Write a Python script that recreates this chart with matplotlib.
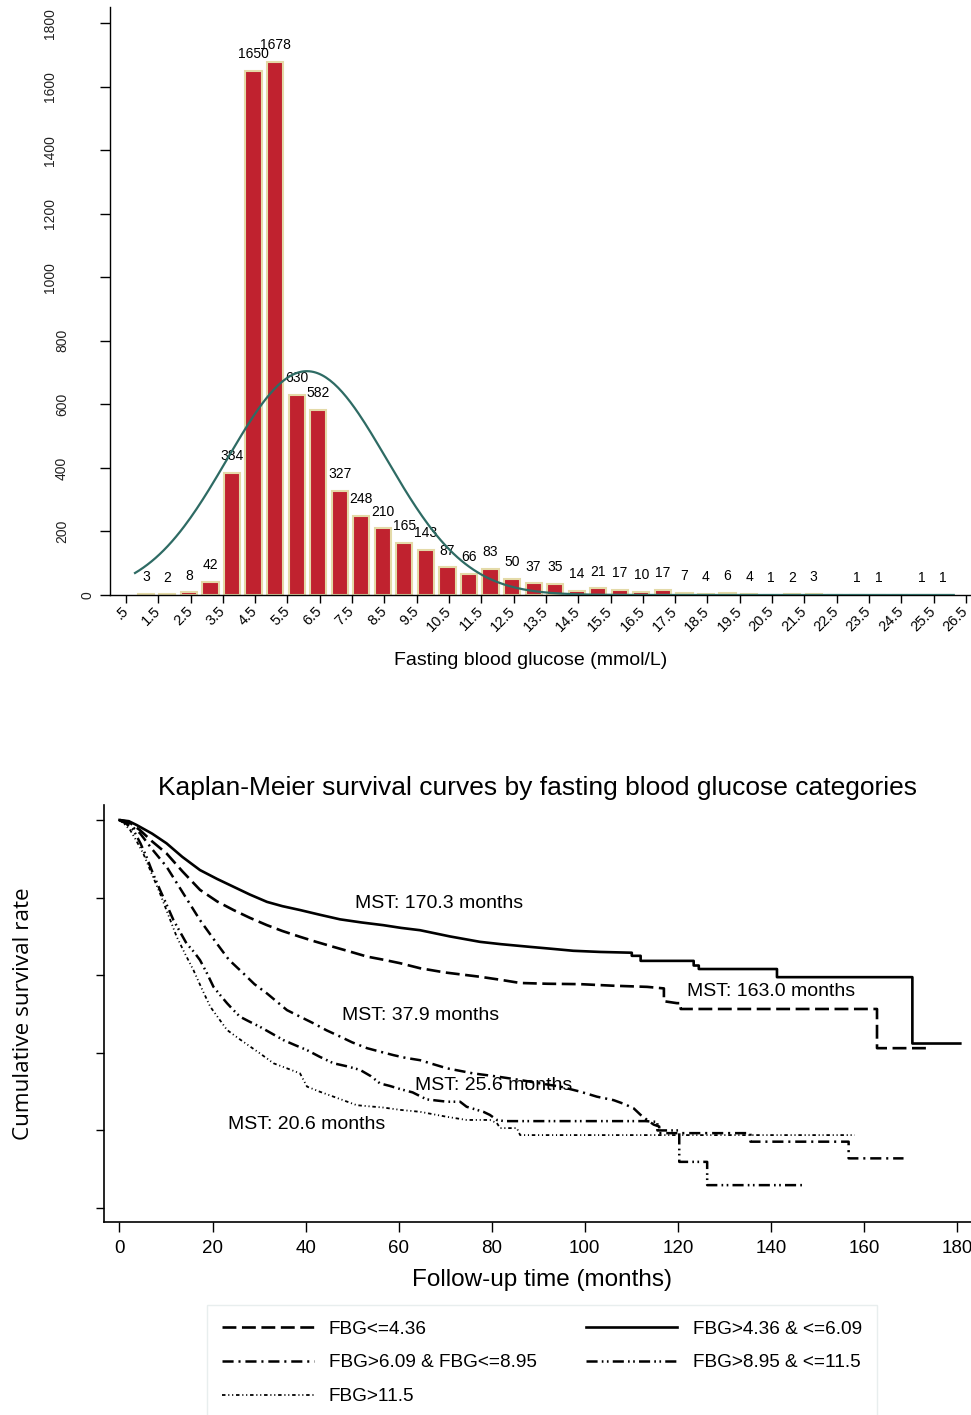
import numpy as np
import matplotlib.pyplot as plt

plt.rcParams['font.family'] = ['Liberation Sans', 'DejaVu Sans']
plt.rcParams['lines.scale_dashes'] = False

# ---- histogram of fasting blood glucose ----
bin_start = 0.78
bin_width = 0.667
fbg_counts = [3, 2, 8, 42, 384, 1650, 1678, 630, 582, 327, 248, 210, 165, 143,
              87, 66, 83, 50, 37, 35, 14, 21, 17, 10, 17, 7, 4, 6, 4, 1, 2, 3,
              0, 1, 1, 0, 1, 1]
fbg_mean = 6.1
fbg_sd = 2.47
hist_xticks = [0.5, 1.5, 2.5, 3.5, 4.5, 5.5, 6.5, 7.5, 8.5, 9.5, 10.5, 11.5, 12.5,
               13.5, 14.5, 15.5, 16.5, 17.5, 18.5, 19.5, 20.5, 21.5, 22.5, 23.5,
               24.5, 25.5, 26.5]
hist_xticklabels = ['.5', '1.5', '2.5', '3.5', '4.5', '5.5', '6.5', '7.5', '8.5',
                    '9.5', '10.5', '11.5', '12.5', '13.5', '14.5', '15.5', '16.5',
                    '17.5', '18.5', '19.5', '20.5', '21.5', '22.5', '23.5', '24.5',
                    '25.5', '26.5']
hist_yticks = [0, 200, 400, 600, 800, 1000, 1200, 1400, 1600, 1800]

# ---- Kaplan-Meier curves (time in months, survival) ----
km_labels = ['FBG<=4.36', 'FBG>4.36 & <=6.09', 'FBG>6.09 & FBG<=8.95',
             'FBG>8.95 & <=11.5', 'FBG>11.5']

t_le436 = [0, 2, 4.4, 7, 10.1, 13.5, 17.3, 21, 24.5, 28, 31.7, 35, 38.8, 42, 46,
           49.5, 53.2, 56.7, 60.3, 64.6, 70, 77.5, 82, 86.1, 92, 99, 106, 113.4,
           117, 117, 119.8, 120.6, 120.6, 162.8, 162.8, 174.5]
s_le436 = [1.0, 0.995, 0.974, 0.945, 0.914, 0.868, 0.820, 0.790, 0.768, 0.748,
           0.729, 0.714, 0.699, 0.687, 0.673, 0.661, 0.648, 0.640, 0.631, 0.618,
           0.607, 0.596, 0.588, 0.580, 0.578, 0.577, 0.573, 0.570, 0.566, 0.533,
           0.528, 0.528, 0.513, 0.513, 0.412, 0.412]

t_436_609 = [0, 2, 3.7, 7, 10.1, 13.5, 17.3, 21, 24.5, 28, 31.7, 35, 38.8, 43,
             47.4, 52, 56.7, 60.5, 64.6, 71, 77.5, 82, 88.3, 93, 97.5, 103.3,
             110.1, 110.1, 112, 112, 123.4, 123.4, 124.5, 124.5, 141.3, 141.3,
             170.4, 170.4, 180.7]
s_436_609 = [1.0, 0.997, 0.987, 0.965, 0.940, 0.905, 0.871, 0.848, 0.828, 0.808,
             0.789, 0.778, 0.768, 0.756, 0.744, 0.736, 0.729, 0.722, 0.716, 0.700,
             0.686, 0.680, 0.673, 0.668, 0.663, 0.660, 0.658, 0.650, 0.650, 0.637,
             0.637, 0.625, 0.625, 0.616, 0.616, 0.595, 0.595, 0.424, 0.424]

t_609_895 = [0, 2, 4.4, 7, 10.1, 13.7, 17.3, 20.9, 23.5, 26.6, 29, 31.7, 34, 36,
             38.5, 41.7, 44.5, 47.4, 50, 53.2, 56, 58.9, 61.5, 64.6, 66.8, 70.4,
             76, 81.1, 86.1, 90, 94.7, 99, 102.6, 106.2, 108.5, 110.5, 112, 113.4,
             114.8, 116, 116, 135.6, 135.6, 156.7, 156.7, 168.5]
s_609_895 = [1.0, 0.99, 0.966, 0.925, 0.880, 0.811, 0.742, 0.682, 0.640, 0.605,
             0.577, 0.553, 0.530, 0.510, 0.495, 0.476, 0.458, 0.442, 0.427, 0.412,
             0.403, 0.394, 0.387, 0.381, 0.373, 0.360, 0.347, 0.339, 0.330, 0.322,
             0.313, 0.300, 0.287, 0.278, 0.268, 0.257, 0.240, 0.227, 0.215, 0.210,
             0.193, 0.193, 0.171, 0.171, 0.128, 0.128]

t_895_115 = [0, 1.5, 3.0, 4.5, 5.8, 7.2, 8.7, 10.2, 11.6, 13, 14.4, 16, 17.3, 18.8,
             20.2, 21.7, 23.1, 24.5, 25.9, 28, 30.2, 32.7, 35.2, 37.7, 40.3, 43,
             46, 49, 51.7, 54, 56, 58, 60.5, 63, 66, 70.4, 73.2, 74.6, 78.2, 79.6,
             81.1, 82.7, 113, 115.6, 115.6, 120.3, 120.3, 126.3, 126.3, 146.7]
s_895_115 = [1.0, 0.99, 0.974, 0.94, 0.905, 0.862, 0.820, 0.780, 0.742, 0.712,
             0.682, 0.660, 0.639, 0.605, 0.570, 0.548, 0.528, 0.510, 0.493, 0.480,
             0.467, 0.450, 0.433, 0.420, 0.407, 0.390, 0.373, 0.365, 0.356, 0.340,
             0.321, 0.315, 0.306, 0.298, 0.280, 0.274, 0.274, 0.261, 0.248, 0.240,
             0.227, 0.224, 0.224, 0.222, 0.200, 0.200, 0.119, 0.119, 0.059, 0.059]

t_gt115 = [0, 1, 2.3, 3.7, 5.1, 6.9, 8.7, 10.5, 12.3, 14.1, 15.9, 17.7, 19.5, 21.3,
           23.1, 25.6, 28.1, 30.6, 33.1, 36, 38.8, 40.3, 43, 46, 48.5, 51, 53.8,
           56.7, 60.3, 64.6, 70.4, 74.6, 79.6, 81.1, 81.8, 85.4, 86.1, 158]
s_gt115 = [1.0, 0.99, 0.974, 0.945, 0.914, 0.862, 0.811, 0.755, 0.699, 0.655,
           0.613, 0.565, 0.519, 0.489, 0.459, 0.437, 0.416, 0.395, 0.373, 0.360,
           0.347, 0.313, 0.300, 0.287, 0.276, 0.265, 0.262, 0.259, 0.253, 0.248,
           0.235, 0.227, 0.227, 0.219, 0.206, 0.206, 0.188, 0.188]

mst_texts = ['MST: 170.3 months', 'MST: 163.0 months', 'MST: 37.9 months',
             'MST: 25.6 months', 'MST: 20.6 months']
mst_x = [50.6, 122.0, 47.8, 63.5, 23.3]
mst_y = [0.784, 0.557, 0.495, 0.317, 0.216]

km_xticks = [0, 20, 40, 60, 80, 100, 120, 140, 160, 180]
km_yticks = [0, 0.2, 0.4, 0.6, 0.8, 1.0]

W, H = 971, 1415
fig = plt.figure(figsize=(W / 100, H / 100), dpi=100)

# ================= top: histogram =================
ax1 = fig.add_axes([110 / W, 1 - 595 / H, 861 / W, 588 / H])
n_bins = len(fbg_counts)
centers = bin_start + bin_width * (np.arange(n_bins) + 0.5)
bars = ax1.bar(centers, fbg_counts, width=0.5, color='#C0222F',
               edgecolor='#E4DAA8', linewidth=1.5, zorder=2)
ax1.bar_label(bars, labels=[str(c) if c else '' for c in fbg_counts],
              padding=7, fontsize=10)

xs = np.linspace(bin_start, bin_start + bin_width * n_bins, 400)
pdf = np.exp(-0.5 * ((xs - fbg_mean) / fbg_sd) ** 2) / (fbg_sd * np.sqrt(2 * np.pi))
ax1.plot(xs, sum(fbg_counts) * bin_width * pdf, color='#2E6B64', lw=1.6, zorder=3)

ax1.set_xlim(0.005, 26.66)
ax1.set_ylim(0, 1851)
for sp in ['top', 'right']:
    ax1.spines[sp].set_visible(False)
ax1.spines['left'].set_linewidth(1.0)
ax1.spines['bottom'].set_linewidth(1.0)

ax1.set_xticks(hist_xticks)
ax1.set_xticklabels(hist_xticklabels, rotation=45, ha='right', va='center',
                    rotation_mode='anchor', fontsize=10.5)
ax1.tick_params(axis='x', length=6, width=1, pad=4)
ax1.set_yticks(hist_yticks)
ax1.set_yticklabels([])
ax1.tick_params(axis='y', length=7, width=1)
for v in hist_yticks:
    n = len(str(v))
    ax1.annotate(str(v), xy=(0, v), xycoords=('axes fraction', 'data'),
                 xytext=(-(10.5 + 12.5 * n) * 0.72, 0), textcoords='offset points',
                 rotation=90, ha='center', va='center', fontsize=10, color='#222222')

ax1.set_xlabel('Fasting blood glucose (mmol/L)', fontsize=14)
ax1.xaxis.set_label_coords((531 - 110) / 861, (595 - 652) / 588)

# ================= bottom: Kaplan-Meier =================
ax2 = fig.add_axes([104 / W, 1 - 1222 / H, 867 / W, 417 / H])

l_a, = ax2.plot(t_le436, s_le436, color='black', lw=1.9, ls=(0, (10, 4)))
l_b, = ax2.plot(t_436_609, s_436_609, color='black', lw=1.9, ls='-')
l_c, = ax2.plot(t_609_895, s_609_895, color='black', lw=1.8,
                ls=(0, (8, 3.5, 1.5, 3.5)))
l_d, = ax2.plot(t_895_115, s_895_115, color='black', lw=1.8,
                ls=(0, (8, 3, 1.2, 2.5, 1.2, 3)))
l_e, = ax2.plot(t_gt115, s_gt115, color='black', lw=1.3,
                ls=(0, (2.5, 2, 0.8, 2, 0.8, 2)))

for txt, x, y in zip(mst_texts, mst_x, mst_y):
    ax2.text(x, y, txt, fontsize=14, ha='left', va='center')

ax2.set_xlim(-3.33, 183)
ax2.set_ylim(-0.036, 1.0387)
for sp in ['top', 'right']:
    ax2.spines[sp].set_visible(False)
ax2.spines['left'].set_linewidth(1.2)
ax2.spines['bottom'].set_linewidth(1.2)
ax2.set_xticks(km_xticks)
ax2.tick_params(axis='x', labelsize=13.5, length=7, width=1, pad=6)
ax2.set_yticks(km_yticks)
ax2.set_yticklabels([])
ax2.tick_params(axis='y', length=6, width=1)

ax2.set_title('Kaplan-Meier survival curves by fasting blood glucose categories',
              fontsize=19, pad=7)
ax2.set_xlabel('Follow-up time (months)', fontsize=17.5)
ax2.xaxis.set_label_coords((542 - 104) / 867, (1222 - 1269) / 417)
ax2.set_ylabel('Cumulative survival rate', fontsize=16.2, family=['Open Sans', 'DejaVu Sans'])
ax2.yaxis.set_label_coords((34 - 104) / 867, 0.5)

handles = [l_a, l_c, l_e, l_b, l_d]
labels = [km_labels[0], km_labels[2], km_labels[4], km_labels[1], km_labels[3]]
leg = ax2.legend(handles, labels, ncol=2, loc='upper left',
                 bbox_to_anchor=((207 - 104) / 867, (1222 - 1305) / 417),
                 borderaxespad=0, fontsize=13.7, handlelength=4.8,
                 handletextpad=0.8, labelspacing=0.87, columnspacing=2.6,
                 borderpad=0.8, fancybox=False, frameon=True)
leg.get_frame().set_edgecolor('#E3EAEA')
leg.get_frame().set_linewidth(1.0)

fig.savefig('out.png', dpi=100)
